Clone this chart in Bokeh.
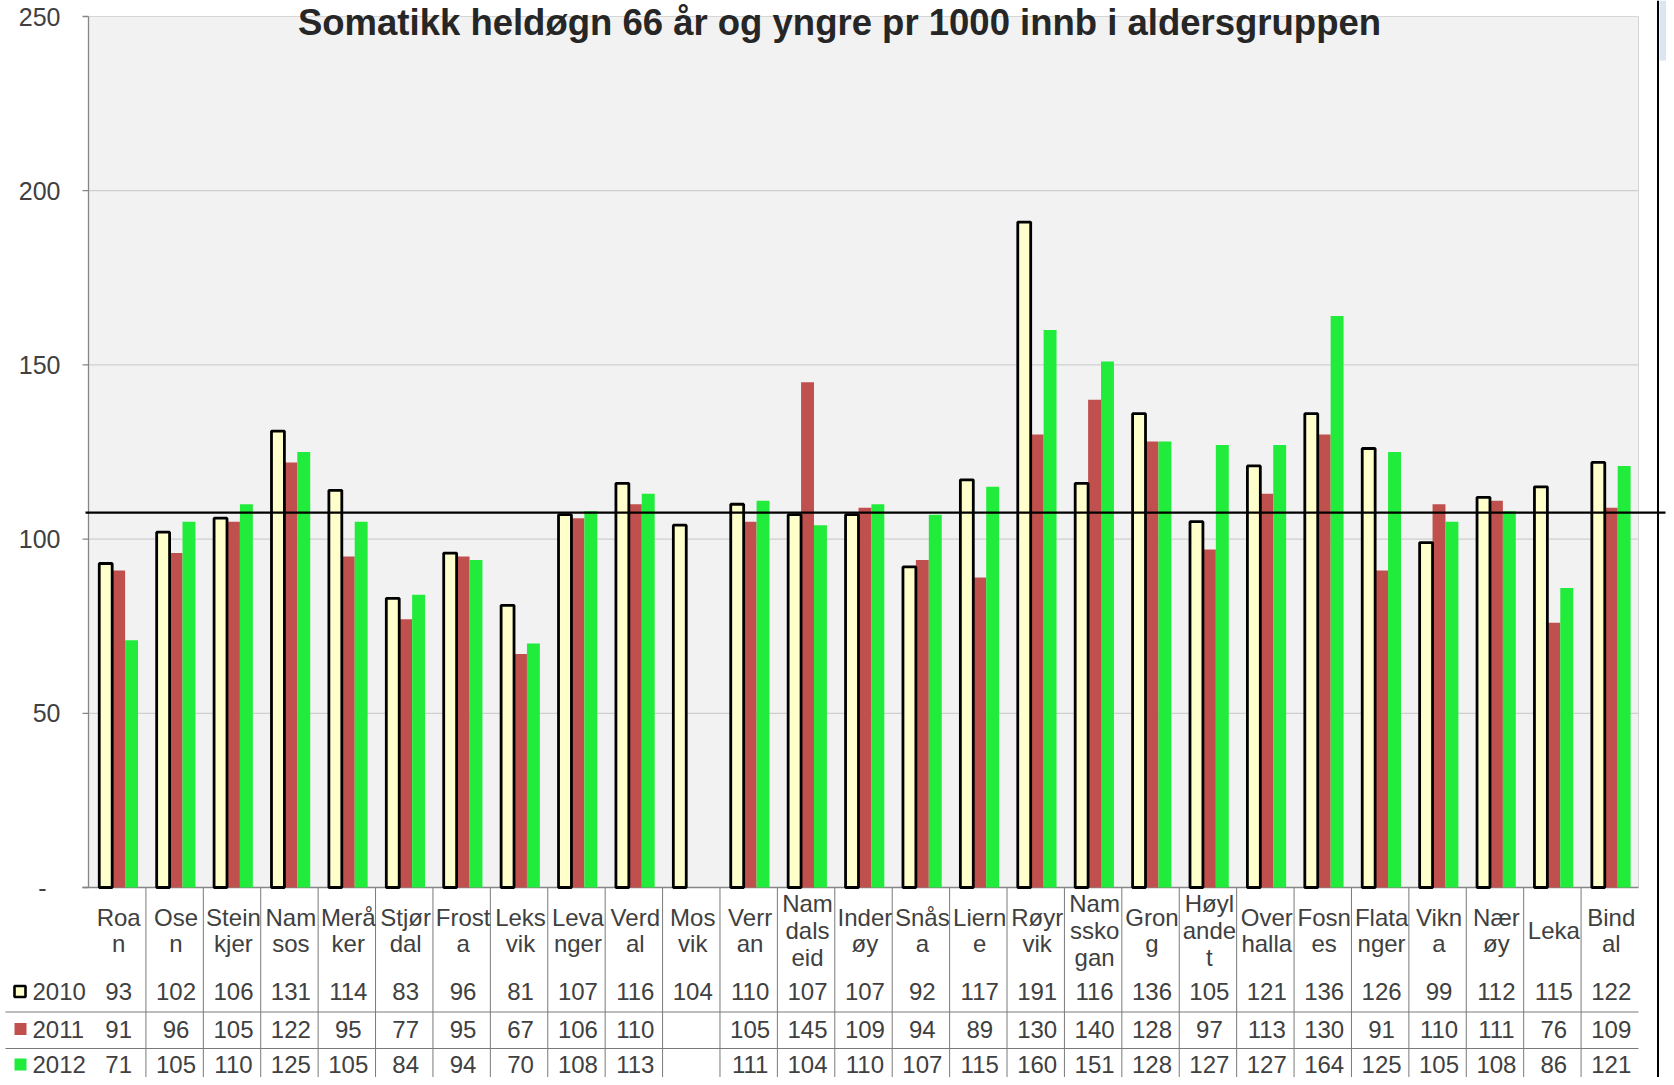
from bokeh.plotting import figure
from bokeh.models import Range1d, ColumnDataSource
from bokeh.embed import file_html
from bokeh.resources import INLINE
from bokeh.core.properties import value

# ---------------- data ----------------
title_text = "Somatikk heldøgn 66 år og yngre pr 1000 innb i aldersgruppen"
municipalities = ["Roan", "Osen", "Steinkjer", "Namsos", "Meråker", "Stjørdal", "Frosta",
                  "Leksvik", "Levanger", "Verdal", "Mosvik", "Verran", "Namdalseid", "Inderøy",
                  "Snåsa", "Lierne", "Røyrvik", "Namsskogan", "Grong", "Høylandet", "Overhalla",
                  "Fosnes", "Flatanger", "Vikna", "Nærøy", "Leka", "Bindal"]
category_labels = ["Roa\nn", "Ose\nn", "Stein\nkjer", "Nam\nsos", "Merå\nker", "Stjør\ndal",
                   "Frost\na", "Leks\nvik", "Leva\nnger", "Verd\nal", "Mos\nvik", "Verr\nan",
                   "Nam\ndals\neid", "Inder\nøy", "Snås\na", "Liern\ne", "Røyr\nvik",
                   "Nam\nssko\ngan", "Gron\ng", "Høyl\nande\nt", "Over\nhalla", "Fosn\nes",
                   "Flata\nnger", "Vikn\na", "Nær\nøy", "Leka", "Bind\nal"]
years = ["2010", "2011", "2012"]
values_2010 = [93, 102, 106, 131, 114, 83, 96, 81, 107, 116, 104, 110, 107, 107, 92, 117, 191,
               116, 136, 105, 121, 136, 126, 99, 112, 115, 122]
values_2011 = [91, 96, 105, 122, 95, 77, 95, 67, 106, 110, None, 105, 145, 109, 94, 89, 130,
               140, 128, 97, 113, 130, 91, 110, 111, 76, 109]
values_2012 = [71, 105, 110, 125, 105, 84, 94, 70, 108, 113, None, 111, 104, 110, 107, 115, 160,
               151, 128, 127, 127, 164, 125, 105, 108, 86, 121]
reference_level = 107.6
y_ticks = [0, 50, 100, 150, 200, 250]
y_tick_labels = ["-", "50", "100", "150", "200", "250"]

# ---------------- layout (pixel positions on the page) ----------------
OFF = 0                      # the canvas starts at the page's top-left corner
W, H = 1666, 1077
PLOT_L, PLOT_R, PLOT_T, PLOT_B = 88, 1638, 16, 887
n = len(municipalities)
y_max = y_ticks[-1]
UX = (PLOT_R - PLOT_L) / n
UY = (PLOT_B - PLOT_T) / y_max


def xd(px):
    return (px - PLOT_L) / UX


def yd(px):
    return (PLOT_B - px) / UY


FONT = value("Liberation Sans")
TXT = "#404040"
C2010, C2011, C2012 = "#FFFFCC", "#C0504D", "#21EB3B"

p = figure(width=W, height=H,
           x_range=Range1d(xd(OFF), xd(OFF + W)), y_range=Range1d(yd(OFF + H), yd(OFF)),
           x_axis_type=None, y_axis_type=None, toolbar_location=None,
           output_backend="svg", min_border=0)
p.outline_line_color = None
p.background_fill_color = "white"
p.border_fill_color = "white"

# plot area
p.quad(left=[0], right=[n], bottom=[0], top=[y_max], fill_color="#F2F2F2", line_color=None)
grid_vals = [t for t in y_ticks if 0 < t < y_max]
p.segment(x0=[0] * len(grid_vals), x1=[n] * len(grid_vals), y0=grid_vals, y1=grid_vals,
          line_color="#C6C6C6", line_width=1)
p.segment(x0=[0, n], x1=[n, n], y0=[y_max, 0], y1=[y_max, y_max], line_color="#D6D6D6",
          line_width=1)

# table lines
bounds = list(range(1, n))
p.segment(x0=bounds, x1=bounds, y0=[0] * len(bounds), y1=[yd(OFF + H)] * len(bounds),
          line_color="#7A7A7A", line_width=1)
row_lines = [yd(1011.5), yd(1048)]
p.segment(x0=[xd(5)] * 2, x1=[n] * 2, y0=row_lines, y1=row_lines, line_color="#7A7A7A",
          line_width=1)

# axes lines
p.segment(x0=[0], x1=[0], y0=[0], y1=[y_max], line_color="#868686", line_width=1.3)
p.segment(x0=[xd(82)], x1=[n], y0=[0], y1=[0], line_color="#868686", line_width=1.3)
p.segment(x0=[xd(82)] * len(y_ticks), x1=[0] * len(y_ticks), y0=y_ticks, y1=y_ticks,
          line_color="#868686", line_width=1.3)
p.text(x=[xd(60)] * len(y_ticks), y=y_ticks, text=y_tick_labels,
       x_offset=[-14 if t == "-" else 0 for t in y_tick_labels],
       text_align="right", text_baseline="middle", text_font=FONT, text_font_size="25px",
       text_color=TXT)

# bars
shift = 0.025
bw = 0.225
cx = [i + 0.5 + shift for i in range(n)]


def nan(v):
    return float("nan") if v is None else v


src = ColumnDataSource(dict(
    x0=[c - bw for c in cx], x1=cx, x2=[c + bw for c in cx],
    v10=values_2010, v11=[nan(v) for v in values_2011], v12=[nan(v) for v in values_2012],
))
p.vbar(x="x1", top="v11", bottom=0, width=bw, source=src, fill_color=C2011, line_color=None)
p.vbar(x="x2", top="v12", bottom=0, width=bw, source=src, fill_color=C2012, line_color=None)
p.vbar(x="x0", top="v10", bottom=0, width=bw, source=src, fill_color=C2010,
       line_color="black", line_width=2.8)

# reference line
p.segment(x0=[xd(85)], x1=[xd(1665)], y0=[reference_level], y1=[reference_level],
          line_color="black", line_width=2.2)

# data table
p.text(x=cx, y=[yd(930)] * n, text=category_labels, text_align="center",
       text_baseline="middle", text_font=FONT, text_font_size="24px", text_color=TXT,
       text_line_height=0.99)
row_y = [yd(991), yd(1028.5), yd(1064)]
for vals, ry in zip([values_2010, values_2011, values_2012], row_y):
    p.text(x=cx, y=[ry] * n, text=["" if v is None else str(v) for v in vals],
           text_align="center", text_baseline="middle", text_font=FONT,
           text_font_size="24px", text_color=TXT)

# legend keys in the table
p.scatter(x=[xd(19.5)], y=[row_y[0]], marker="square", size=11, fill_color=C2010,
          line_color="black", line_width=2.6)
p.scatter(x=[xd(20)] * 2, y=row_y[1:], marker="square", size=12,
          fill_color=[C2011, C2012], line_color=None)
p.text(x=[xd(32)] * 3, y=row_y, text=years, text_align="left", text_baseline="middle",
       text_font=FONT, text_font_size="24px", text_color=TXT)

# title
p.text(x=[xd(839)], y=[yd(OFF + 1)], text=[title_text], text_align="center",
       text_baseline="top", text_font=FONT, text_font_size="36.5px",
       text_font_style="bold", text_color="#262626")

# window edge decoration on the right
p.quad(left=[xd(1659)], right=[xd(OFF + W)], top=[yd(OFF)], bottom=[yd(60)],
       fill_color="#DCE6F2", line_color=None)
p.segment(x0=[xd(1657.5)], x1=[xd(1657.5)], y0=[yd(OFF)], y1=[yd(OFF + H)],
          line_color="black", line_width=2)

open("out.html", "w").write(file_html(p, INLINE))
